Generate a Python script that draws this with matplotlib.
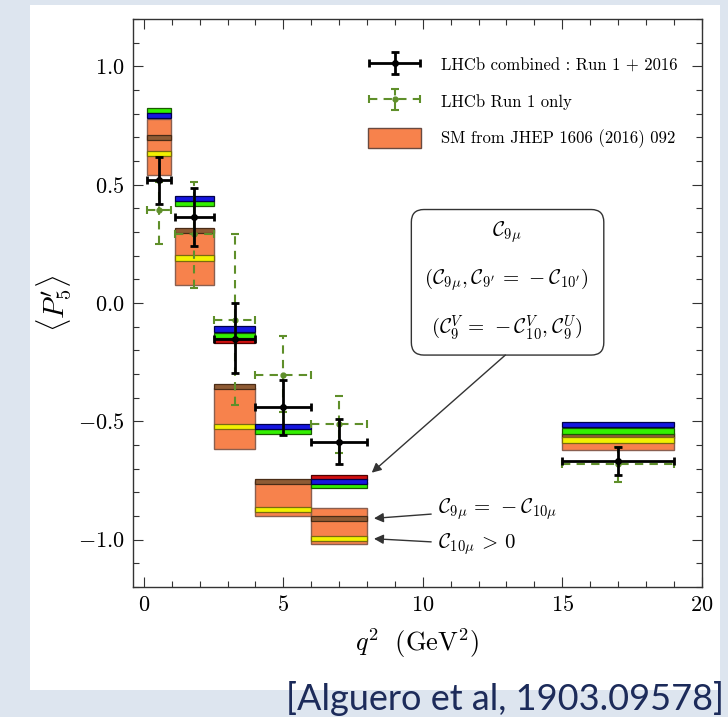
import numpy as np
import matplotlib
matplotlib.use("Agg")
from matplotlib import pyplot as plt
from matplotlib.patches import Rectangle, FancyBboxPatch, Patch
from matplotlib.legend_handler import HandlerErrorbar

plt.rcParams["font.family"] = "serif"
plt.rcParams["font.serif"] = ["cmr10", "DejaVu Serif"]
plt.rcParams["mathtext.fontset"] = "cm"
plt.rcParams["axes.formatter.use_mathtext"] = True

# q^2 bins (GeV^2)
bin_lo = [0.1, 1.1, 2.5, 4.0, 6.0, 15.0]
bin_hi = [0.98, 2.5, 4.0, 6.0, 8.0, 19.0]

# SM prediction boxes
sm_lo = [0.541, 0.075, -0.617, -0.902, -1.02, -0.621]
sm_hi = [0.776, 0.312, -0.36, -0.75, -0.866, -0.553]

# NP scenarios, central values per bin (nan = not visible)
np_brown = [0.70, 0.305, -0.354, -0.753, -0.912, -0.559]
np_yellow = [0.631, 0.19, -0.522, -0.874, -0.994, -0.579]
np_red = [np.nan, np.nan, -0.157, np.nan, -0.736, np.nan]
np_green = [0.814, 0.419, -0.138, -0.543, -0.769, -0.541]
np_blue = [0.793, 0.441, -0.11, -0.522, -0.753, -0.513]

# LHCb combined Run 1 + 2016
p5_comb = [0.52, 0.364, -0.152, -0.441, -0.586, -0.669]
comb_up = [0.098, 0.123, 0.152, 0.116, 0.096, 0.059]
comb_dn = [0.10, 0.124, 0.145, 0.116, 0.094, 0.057]

# LHCb Run 1 only
p5_run1 = [0.393, 0.29, -0.071, -0.303, -0.513, -0.68]
run1_up = [0.117, 0.223, 0.361, 0.165, 0.119, 0.07]
run1_dn = [0.143, 0.225, 0.359, 0.157, 0.121, 0.077]

legend_labels = ["LHCb combined : Run 1 + 2016", "LHCb Run 1 only",
                 "SM from JHEP 1606 (2016) 092"]

orange = "#f7824c"
olive = "#5f8f2a"

lo = np.array(bin_lo)
hi = np.array(bin_hi)
mid = (lo + hi) / 2
half = (hi - lo) / 2

fig = plt.figure(figsize=(7.28, 7.17), dpi=100, facecolor="#dde5ef")
fig.patches.append(Rectangle((30 / 728, 1 - 690 / 717), 690 / 728, 685 / 717,
                             transform=fig.transFigure, facecolor="white",
                             edgecolor="none", zorder=-10))
ax = fig.add_axes([132.7 / 728, 1 - 587 / 717, 569 / 728, 568 / 717])

# SM boxes
ax.bar(lo, np.array(sm_hi) - np.array(sm_lo), bottom=sm_lo, width=hi - lo,
       align="edge", color=orange, edgecolor="#8a5f50", linewidth=1, zorder=2)


def bands(values, face, edge, z):
    v = np.array(values)
    ok = ~np.isnan(v)
    h = 0.022
    ax.bar(lo[ok], h, bottom=v[ok] - h / 2, width=(hi - lo)[ok], align="edge",
           color=face, edgecolor=edge, linewidth=0.9, zorder=z)


bands(np_brown, "#8f5b34", "#4a2c16", 3)
bands(np_yellow, "#f2f200", "#7a6a10", 3)
bands(np_red, "#d01010", "#500000", 3.1)
bands(np_green, "#33f000", "#1a5a00", 3.2)
bands(np_blue, "#1616e0", "#00004a", 3.3)

run1 = ax.errorbar(mid, p5_run1, xerr=half, yerr=[run1_dn, run1_up], fmt="o",
                   color=olive, ms=3.5, elinewidth=1.5, capsize=3,
                   capthick=1.5, zorder=5)
for lc in run1[2]:
    lc.set_linestyle((0, (4, 3)))
comb = ax.errorbar(mid, p5_comb, xerr=half, yerr=[comb_dn, comb_up], fmt="o",
                   color="black", ms=4, elinewidth=2, capsize=3, capthick=2,
                   zorder=6)

sm_patch = Patch(facecolor=orange, edgecolor="#6a4a40", linewidth=1)
eb_handler = HandlerErrorbar(xerr_size=1.55, yerr_size=0.65)
ax.legend([comb, run1, sm_patch], legend_labels, loc="upper left",
          bbox_to_anchor=(0.4135, 0.936), frameon=False, borderpad=0,
          borderaxespad=0, handlelength=3.2, handleheight=1.5,
          handletextpad=1.2, labelspacing=0.95, fontsize=12,
          handler_map={comb: eb_handler, run1: eb_handler})

# annotation box
box = FancyBboxPatch((9.59, -0.22), 6.9, 0.615,
                     boxstyle="round,pad=0,rounding_size=0.45",
                     mutation_aspect=27.9 / 237, facecolor="white",
                     edgecolor="#333333", linewidth=1, zorder=7)
ax.add_patch(box)
ax.text(13.0, 0.30, r"$\mathcal{C}_{9\mu}$", ha="center", va="center",
        fontsize=15, zorder=8)
ax.text(13.0, 0.097, r"$(\mathcal{C}_{9\mu}, \mathcal{C}_{9'}\,=\,-\mathcal{C}_{10'})$",
        ha="center", va="center", fontsize=15, zorder=8)
ax.text(13.0, -0.105, r"$(\mathcal{C}_9^V\,=\,-\mathcal{C}_{10}^V, \mathcal{C}_9^U)$",
        ha="center", va="center", fontsize=15, zorder=8)

arrow = dict(arrowstyle="-|>", color="#333333", lw=1, mutation_scale=14,
             shrinkA=0, shrinkB=0)
ax.annotate("", xy=(8.17, -0.717), xytext=(12.96, -0.22), arrowprops=arrow,
            zorder=8)
ax.annotate(r"$\mathcal{C}_{9\mu}\,=\,-\mathcal{C}_{10\mu}$", xy=(8.25, -0.91),
            xytext=(10.55, -0.871), va="center", ha="left", fontsize=15,
            arrowprops=dict(arrow, shrinkA=3))
ax.annotate(r"$\mathcal{C}_{10\mu}\,>\,0$", xy=(8.25, -0.996),
            xytext=(10.55, -1.02), va="center", ha="left", fontsize=15,
            arrowprops=dict(arrow, shrinkA=3))

ax.set_xlim(-0.4, 20)
ax.set_ylim(-1.2, 1.2)
ax.set_xticks([0, 5, 10, 15, 20])
ax.set_xticks(np.arange(0, 21, 1), minor=True)
ax.set_yticks([-1.0, -0.5, 0.0, 0.5, 1.0])
ax.set_yticks(np.arange(-1.2, 1.21, 0.1), minor=True)
ax.yaxis.set_major_formatter(matplotlib.ticker.FormatStrFormatter("$%.1f$"))
ax.xaxis.set_major_formatter(matplotlib.ticker.FormatStrFormatter("$%d$"))
ax.tick_params(which="both", direction="in", top=True, right=True,
               labelsize=16, color="#333333", width=0.8, pad=6)
ax.tick_params(which="major", length=7)
ax.tick_params(which="minor", length=4)
for s in ax.spines.values():
    s.set_color("#333333")
    s.set_linewidth(1)

ax.set_xlabel(r"$q^2\ \ (\mathrm{GeV}^2)$", fontsize=19, labelpad=8)
ax.set_ylabel(r"$\langle P_5' \rangle$", fontsize=21, labelpad=3)

fig.text(0.994, 0.002, "[Alguero et al, 1903.09578]", ha="right", va="bottom",
         fontsize=26, family="Lato", color="#1c2b5a")

fig.savefig("out.png", dpi=100, facecolor=fig.get_facecolor())
